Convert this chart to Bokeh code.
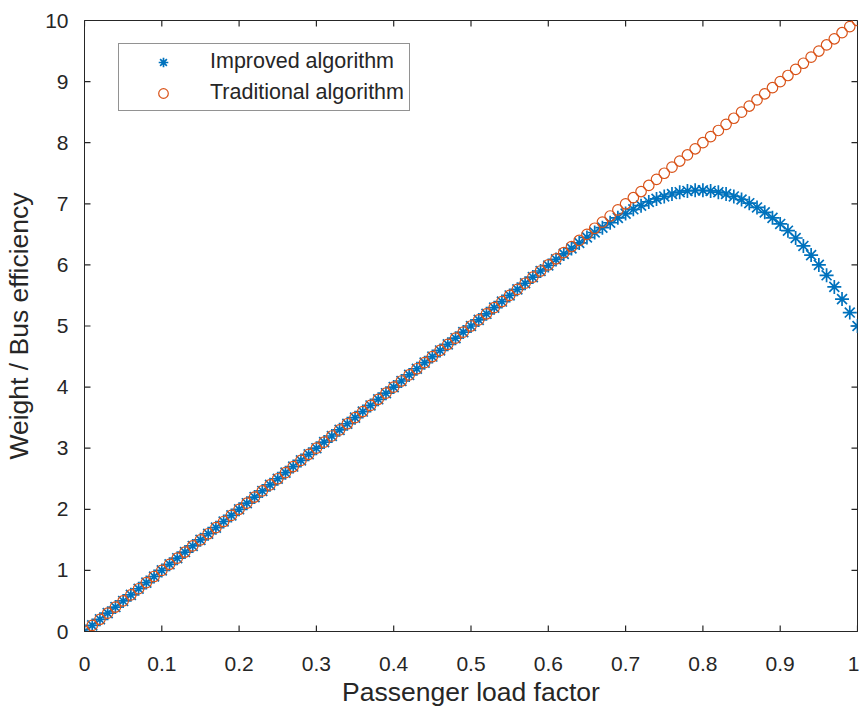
import math
from bokeh.plotting import figure
from bokeh.models import Range1d, FixedTicker, Legend, LegendItem
from bokeh.embed import file_html
from bokeh.resources import INLINE

# ---- data ----
load_factor = [
    0.00, 0.01, 0.02, 0.03, 0.04, 0.05, 0.06, 0.07, 0.08, 0.09,
    0.10, 0.11, 0.12, 0.13, 0.14, 0.15, 0.16, 0.17, 0.18, 0.19,
    0.20, 0.21, 0.22, 0.23, 0.24, 0.25, 0.26, 0.27, 0.28, 0.29,
    0.30, 0.31, 0.32, 0.33, 0.34, 0.35, 0.36, 0.37, 0.38, 0.39,
    0.40, 0.41, 0.42, 0.43, 0.44, 0.45, 0.46, 0.47, 0.48, 0.49,
    0.50, 0.51, 0.52, 0.53, 0.54, 0.55, 0.56, 0.57, 0.58, 0.59,
    0.60, 0.61, 0.62, 0.63, 0.64, 0.65, 0.66, 0.67, 0.68, 0.69,
    0.70, 0.71, 0.72, 0.73, 0.74, 0.75, 0.76, 0.77, 0.78, 0.79,
    0.80, 0.81, 0.82, 0.83, 0.84, 0.85, 0.86, 0.87, 0.88, 0.89,
    0.90, 0.91, 0.92, 0.93, 0.94, 0.95, 0.96, 0.97, 0.98, 0.99,
    1.00,
]

improved = [
    0.0, 0.1, 0.2, 0.3, 0.4, 0.5, 0.6, 0.7, 0.8, 0.9,
    1.0, 1.1, 1.2, 1.3, 1.4, 1.5, 1.6, 1.7, 1.8, 1.9,
    2.0, 2.1, 2.2, 2.3, 2.4, 2.5, 2.6, 2.7, 2.8, 2.9,
    3.0, 3.1, 3.2, 3.3, 3.4, 3.5, 3.6, 3.7, 3.8, 3.9,
    4.0, 4.1, 4.2, 4.3, 4.4, 4.5, 4.6, 4.7, 4.8, 4.9,
    5.0, 5.1, 5.2, 5.3, 5.4, 5.5, 5.6, 5.7, 5.8, 5.9,
    5.99, 6.09, 6.18, 6.27, 6.36, 6.45, 6.53, 6.61, 6.69, 6.77,
    6.84, 6.91, 6.97, 7.03, 7.08, 7.12, 7.16, 7.19, 7.21, 7.22,
    7.22, 7.21, 7.19, 7.16, 7.12, 7.07, 7.01, 6.94, 6.86, 6.77,
    6.67, 6.56, 6.44, 6.31, 6.16, 6.00, 5.83, 5.64, 5.44, 5.22,
    5.00,
]

traditional = [
    0.0, 0.1, 0.2, 0.3, 0.4, 0.5, 0.6, 0.7, 0.8, 0.9,
    1.0, 1.1, 1.2, 1.3, 1.4, 1.5, 1.6, 1.7, 1.8, 1.9,
    2.0, 2.1, 2.2, 2.3, 2.4, 2.5, 2.6, 2.7, 2.8, 2.9,
    3.0, 3.1, 3.2, 3.3, 3.4, 3.5, 3.6, 3.7, 3.8, 3.9,
    4.0, 4.1, 4.2, 4.3, 4.4, 4.5, 4.6, 4.7, 4.8, 4.9,
    5.0, 5.1, 5.2, 5.3, 5.4, 5.5, 5.6, 5.7, 5.8, 5.9,
    6.0, 6.1, 6.2, 6.3, 6.4, 6.5, 6.6, 6.7, 6.8, 6.9,
    7.0, 7.1, 7.2, 7.3, 7.4, 7.5, 7.6, 7.7, 7.8, 7.9,
    8.0, 8.1, 8.2, 8.3, 8.4, 8.5, 8.6, 8.7, 8.8, 8.9,
    9.0, 9.1, 9.2, 9.3, 9.4, 9.5, 9.6, 9.7, 9.8, 9.9,
    10.0,
]

x_ticks = [0, 0.1, 0.2, 0.3, 0.4, 0.5, 0.6, 0.7, 0.8, 0.9, 1]
x_tick_labels = ["0", "0.1", "0.2", "0.3", "0.4", "0.5", "0.6", "0.7", "0.8", "0.9", "1"]
y_ticks = [0, 1, 2, 3, 4, 5, 6, 7, 8, 9, 10]

series_names = ["Improved algorithm", "Traditional algorithm"]

# ---- styling ----
FONT = "Liberation Sans"
AX = "#262626"
BLUE = "#0072BD"
ORANGE = "#D95319"

p = figure(
    width=859, height=711,
    x_range=Range1d(x_ticks[0], x_ticks[-1]), y_range=Range1d(y_ticks[0], y_ticks[-1]),
    output_backend="svg", toolbar_location=None,
    min_border_left=84, min_border_top=20, min_border_right=2, min_border_bottom=80,
)
p.background_fill_color = "white"
p.border_fill_color = "white"
p.outline_line_color = AX
p.outline_line_width = 1
p.xgrid.visible = False
p.ygrid.visible = False


def style_axis(ax):
    ax.axis_line_color = AX
    ax.axis_line_width = 1
    ax.major_tick_line_color = None
    ax.minor_tick_line_color = None
    ax.major_label_text_color = AX
    ax.major_label_text_font = FONT
    ax.major_label_text_font_size = "21px"
    ax.axis_label_text_font = FONT
    ax.axis_label_text_font_size = "26.5px"
    ax.axis_label_text_font_style = "normal"
    ax.axis_label_text_color = AX


xa = p.xaxis[0]
xa.ticker = FixedTicker(ticks=x_ticks)
xa.major_label_overrides = {t: s for t, s in zip(x_ticks, x_tick_labels)}
xa.axis_label = "Passenger load factor"
style_axis(xa)
xa.major_label_standoff = 19
xa.axis_label_standoff = 3

ya = p.yaxis[0]
ya.ticker = FixedTicker(ticks=y_ticks)
ya.axis_label = "Weight / Bus efficiency"
style_axis(ya)
ya.major_label_standoff = 10
ya.axis_label_standoff = 8

# inward tick marks on all four sides of the box (outer half of each dash is clipped by the frame)
n_x = len(x_ticks)
n_y = len(y_ticks)
TICK = dict(size=12, line_color=AX, line_width=1.2)
p.scatter(x_ticks, [y_ticks[0]] * n_x, marker="dash", angle=math.pi / 2, **TICK)
p.scatter(x_ticks, [y_ticks[-1]] * n_x, marker="dash", angle=math.pi / 2, **TICK)
p.scatter([x_ticks[0]] * n_y, y_ticks, marker="dash", **TICK)
p.scatter([x_ticks[-1]] * n_y, y_ticks, marker="dash", **TICK)

r_imp = p.scatter(load_factor, improved, marker="asterisk", size=14,
                  line_color=BLUE, line_width=1.7)
r_trad = p.scatter(load_factor, traditional, marker="circle", size=10.5,
                   fill_color=None, line_color=ORANGE, line_width=1.2)

legend = Legend(
    items=[LegendItem(label=series_names[0], renderers=[r_imp]),
           LegendItem(label=series_names[1], renderers=[r_trad])],
    location=(34, 520),
    label_text_font=FONT, label_text_font_size="21.5px", label_text_color=AX,
    border_line_color=AX, border_line_width=1,
    background_fill_color="white", background_fill_alpha=1,
    padding=5, spacing=6, margin=0,
    glyph_width=78, glyph_height=24, label_height=24, label_standoff=8,
)
p.add_layout(legend, "center")

open("out.html", "w").write(file_html(p, INLINE))
